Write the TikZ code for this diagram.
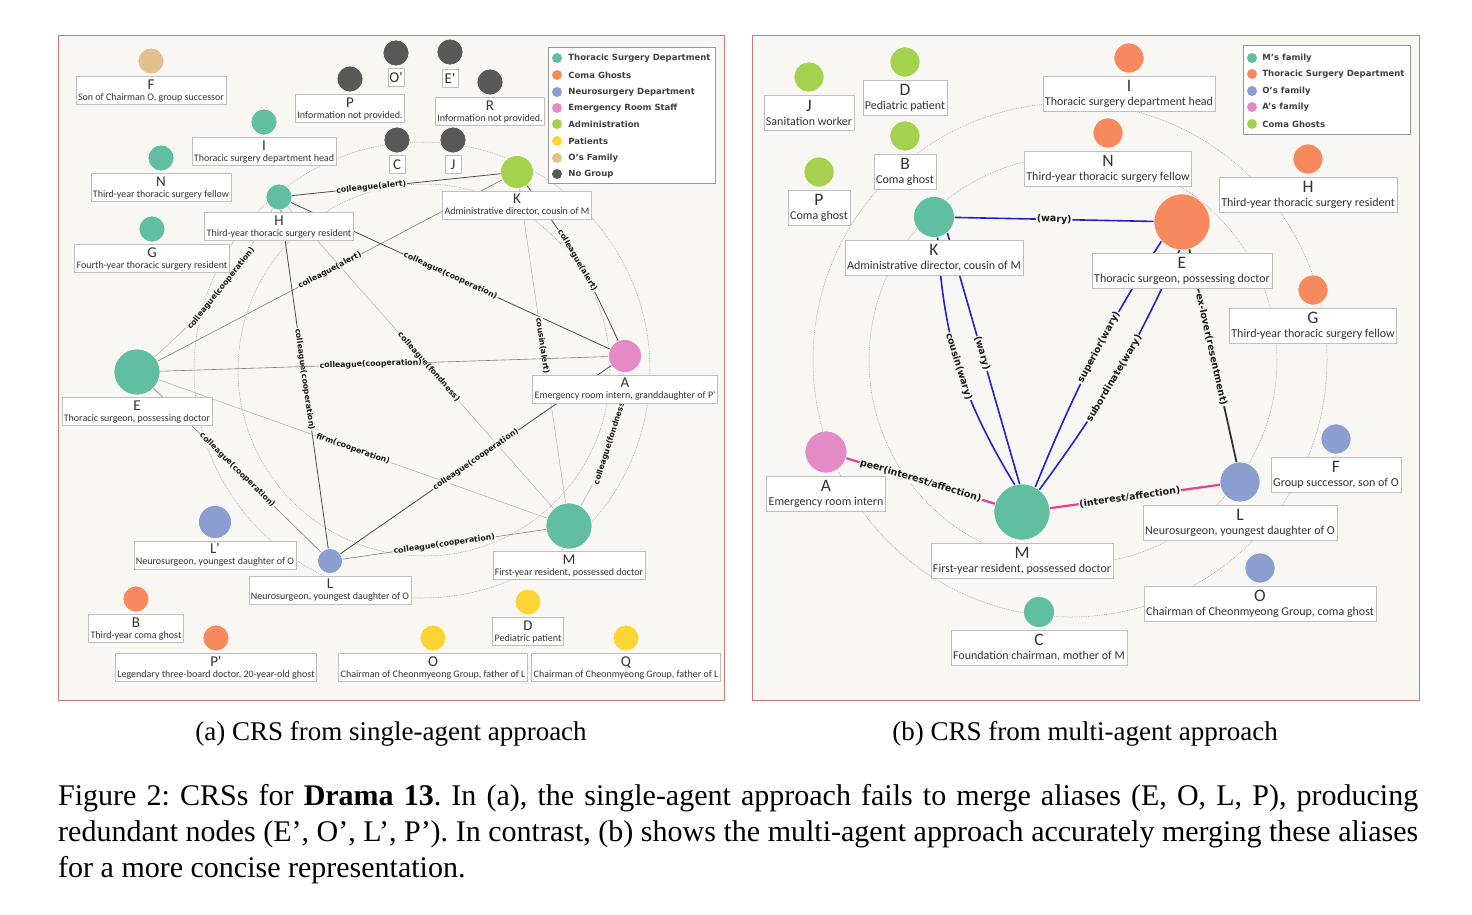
\documentclass[tikz,border=0pt]{standalone}
\usepackage{fontspec}
\setmainfont{Liberation Serif}
\newfontfamily\labfont{Carlito}
\newfontfamily\relfont{DejaVu Sans}
\usepackage{tikz}
\usetikzlibrary{positioning}

\definecolor{cThor}{RGB}{98,190,160}
\definecolor{cComa}{RGB}{247,138,92}
\definecolor{cNeuro}{RGB}{139,158,208}
\definecolor{cER}{RGB}{228,138,198}
\definecolor{cAdmin}{RGB}{164,210,78}
\definecolor{cPat}{RGB}{252,212,52}
\definecolor{cOfam}{RGB}{228,192,140}
\definecolor{cNone}{RGB}{88,88,88}
\definecolor{panelbg}{RGB}{249,247,244}
\definecolor{panelrim}{RGB}{205,120,120}
\definecolor{wblue}{RGB}{34,34,200}
\definecolor{apink}{RGB}{232,64,140}

\newcommand\lnm[1]{{\fontsize{15}{15}\selectfont #1}}
\newcommand\rnm[1]{{\fontsize{17.5}{17.5}\selectfont #1}}

\tikzset{
  panel/.style={draw=panelrim, fill=panelbg, line width=0.8pt},
  orbit/.style={draw=black!40, line width=0.5pt, dash pattern=on 0.8pt off 1pt},
  person/.style={circle, inner sep=0pt, draw=white, line width=0.6pt},
  lbox/.style={draw=black!25, fill=white, line width=0.5pt, align=center,
    inner xsep=2pt, inner ysep=1pt, minimum height=28pt, text=black!80,
    font=\labfont\fontsize{10}{11}\selectfont},
  lsmall/.style={lbox, minimum height=18pt, minimum width=16pt, inner xsep=1pt},
  rbox/.style={lbox, minimum height=35pt, font=\labfont\fontsize{12}{14}\selectfont},
  edark/.style={draw=black!70, line width=0.8pt},
  emid/.style={draw=black!50, line width=0.6pt},
  elight/.style={draw=black!30, line width=0.5pt},
  lrel/.style={sloped, fill=panelbg, inner sep=0.8pt, text=black!90,
    font=\relfont\bfseries\fontsize{7.8}{9}\selectfont},
  rrel/.style={lrel, font=\relfont\bfseries\fontsize{9.5}{11}\selectfont},
  wary/.style={draw=wblue, line width=1.6pt},
  affect/.style={draw=apink, line width=2.2pt},
  exlove/.style={draw=black!80, line width=1.8pt},
  legframe/.style={draw=black!40, fill=white, line width=0.6pt},
  legdot/.style={circle, inner sep=0pt, minimum size=10pt},
  legtxt/.style={inner sep=0pt, text=black!75, font=\relfont\bfseries\fontsize{8.5}{10}\selectfont},
  subcap/.style={anchor=base, font=\fontsize{27}{32}\selectfont}
}

\begin{document}
\begin{tikzpicture}[x=1pt,y=-1pt]
\useasboundingbox (0,0) rectangle (1472,914);
\fill[white] (0,0) rectangle (1472,914);

% (a) single-agent
\draw[panel] (58,35) rectangle (724,700);
\draw[orbit] (422,370) circle (228pt);
\draw[orbit] (424,370) circle (186pt);

\draw[legframe] (548,47) rectangle (715,183);
\node[legdot, fill=cThor] (lgA1) at (557,58) {};
\node[legtxt, right=6pt of lgA1] (lgA1t) {Thoracic Surgery Department};
\node[legdot, fill=cComa] (lgA2) at (557,75) {};
\node[legtxt, right=6pt of lgA2] (lgA2t) {Coma Ghosts};
\node[legdot, fill=cNeuro] (lgA3) at (557,92) {};
\node[legtxt, right=6pt of lgA3] (lgA3t) {Neurosurgery Department};
\node[legdot, fill=cER] (lgA4) at (557,108) {};
\node[legtxt, right=6pt of lgA4] (lgA4t) {Emergency Room Staff};
\node[legdot, fill=cAdmin] (lgA5) at (557,124) {};
\node[legtxt, right=6pt of lgA5] (lgA5t) {Administration};
\node[legdot, fill=cPat] (lgA6) at (557,141) {};
\node[legtxt, right=6pt of lgA6] (lgA6t) {Patients};
\node[legdot, fill=cOfam] (lgA7) at (557,158) {};
\node[legtxt, right=6pt of lgA7] (lgA7t) {O’s Family};
\node[legdot, fill=cNone] (lgA8) at (557,174) {};
\node[legtxt, right=6pt of lgA8] (lgA8t) {No Group};

\node[person, minimum size=26pt, fill=cOfam] (lF) at (151,61) {};
\node[person, minimum size=26pt, fill=cNone] (lP) at (350,79) {};
\node[person, minimum size=26pt, fill=cNone] (lOp) at (396,53) {};
\node[person, minimum size=26pt, fill=cNone] (lEp) at (450,52) {};
\node[person, minimum size=26pt, fill=cNone] (lR) at (490,82) {};
\node[person, minimum size=26pt, fill=cNone] (lC) at (397,140) {};
\node[person, minimum size=26pt, fill=cNone] (lJ) at (453,140) {};
\node[person, minimum size=33pt, fill=cAdmin] (lK) at (517,172) {};
\node[person, minimum size=26pt, fill=cThor] (lI) at (264,122) {};
\node[person, minimum size=26pt, fill=cThor] (lN) at (161,158) {};
\node[person, minimum size=26pt, fill=cThor] (lH) at (279,197) {};
\node[person, minimum size=26pt, fill=cThor] (lG) at (152,229) {};
\node[person, minimum size=46pt, fill=cThor] (lE) at (137,372) {};
\node[person, minimum size=33pt, fill=cER] (lA) at (625,356) {};
\node[person, minimum size=33pt, fill=cNeuro] (lLp) at (215,522) {};
\node[person, minimum size=25pt, fill=cNeuro] (lL) at (330,561) {};
\node[person, minimum size=26pt, fill=cComa] (lB) at (136,599) {};
\node[person, minimum size=26pt, fill=cComa] (lPp) at (216,638) {};
\node[person, minimum size=46pt, fill=cThor] (lM) at (569,526) {};
\node[person, minimum size=26pt, fill=cPat] (lD) at (528,602) {};
\node[person, minimum size=26pt, fill=cPat] (lO) at (433,638) {};
\node[person, minimum size=26pt, fill=cPat] (lQ) at (626,638) {};

\draw[edark] (lH) -- node[lrel, pos=0.38] {colleague(alert)} (lK);
\draw[elight] (lH) to[bend left=10] node[lrel, pos=0.5] {colleague(cooperation)} (lE);
\draw[emid] (lE) -- node[lrel] {colleague(alert)} (lK);
\draw[edark] (lH) -- node[lrel] {colleague(cooperation)} (lA);
\draw[edark] (lH) -- node[lrel] {colleague(cooperation)} (lL);
\draw[elight] (lH) -- node[lrel, pos=0.53] {colleague(fondness)} (lM);
\draw[edark] (lK) to[bend left=6] node[lrel] {colleague(alert)} (lA);
\draw[elight] (lK) -- node[lrel] {cousin(alert)} (lM);
\draw[emid] (lE) -- node[lrel, pos=0.47] {colleague(cooperation)} (lA);
\draw[elight] (lE) -- node[lrel] {firm(cooperation)} (lM);
\draw[emid] (lE) -- node[lrel] {colleague(cooperation)} (lL);
\draw[edark] (lL) -- node[lrel] {colleague(cooperation)} (lA);
\draw[elight] (lA) to[bend left=12] node[lrel] {colleague(fondness)} (lM);
\draw[emid] (lL) -- node[lrel] {colleague(cooperation)} (lM);

\node[lbox, below=2pt of lF] (lFt) {\lnm{F}\\Son of Chairman O, group successor};
\node[lbox, below=2pt of lP] (lPt) {\lnm{P}\\Information not provided.};
\node[lsmall, below=2pt of lOp] (lOpt) {\lnm{O'}};
\node[lsmall, below=4pt of lEp] (lEpt) {\lnm{E'}};
\node[lbox, below=2pt of lR] (lRt) {\lnm{R}\\Information not provided.};
\node[lsmall, below=2pt of lC] (lCt) {\lnm{C}};
\node[lsmall, below=2pt of lJ] (lJt) {\lnm{J}};
\node[lbox, below=2pt of lK] (lKt) {\lnm{K}\\Administrative director, cousin of M};
\node[lbox, below=2pt of lI] (lIt) {\lnm{I}\\Thoracic surgery department head};
\node[lbox, below=2pt of lN] (lNt) {\lnm{N}\\Third-year thoracic surgery fellow};
\node[lbox, below=2pt of lH] (lHt) {\lnm{H}\\Third-year thoracic surgery resident};
\node[lbox, below=2pt of lG] (lGt) {\lnm{G}\\Fourth-year thoracic surgery resident};
\node[lbox, below=2pt of lE] (lEt) {\lnm{E}\\Thoracic surgeon, possessing doctor};
\node[lbox, below=2pt of lA] (lAt) {\lnm{A}\\Emergency room intern, granddaughter of P'};
\node[lbox, below=2pt of lLp] (lLpt) {\lnm{L'}\\Neurosurgeon, youngest daughter of O};
\node[lbox, below=2pt of lL] (lLt) {\lnm{L}\\Neurosurgeon, youngest daughter of O};
\node[lbox, below=2pt of lB] (lBt) {\lnm{B}\\Third-year coma ghost};
\node[lbox, below=2pt of lPp] (lPpt) {\lnm{P'}\\Legendary three-board doctor, 20-year-old ghost};
\node[lbox, below=2pt of lM] (lMt) {\lnm{M}\\First-year resident, possessed doctor};
\node[lbox, below=2pt of lD] (lDt) {\lnm{D}\\Pediatric patient};
\node[lbox, below=2pt of lO] (lOt) {\lnm{O}\\Chairman of Cheonmyeong Group, father of L};
\node[lbox, below=2pt of lQ] (lQt) {\lnm{Q}\\Chairman of Cheonmyeong Group, father of L};

% (b) multi-agent
\draw[panel] (752,35) rectangle (1419,700);
\draw[orbit] (1070,360) circle (257pt);
\draw[orbit] (1073,360) circle (204pt);

\draw[legframe] (1243,45) rectangle (1410,134);
\node[legdot, fill=cThor] (lgB1) at (1252,58) {};
\node[legtxt, right=5pt of lgB1] (lgB1t) {M’s family};
\node[legdot, fill=cComa] (lgB2) at (1252,74) {};
\node[legtxt, right=5pt of lgB2] (lgB2t) {Thoracic Surgery Department};
\node[legdot, fill=cNeuro] (lgB3) at (1252,91) {};
\node[legtxt, right=5pt of lgB3] (lgB3t) {O’s family};
\node[legdot, fill=cER] (lgB4) at (1252,107) {};
\node[legtxt, right=5pt of lgB4] (lgB4t) {A’s family};
\node[legdot, fill=cAdmin] (lgB5) at (1252,124) {};
\node[legtxt, right=5pt of lgB5] (lgB5t) {Coma Ghosts};

\node[person, minimum size=30pt, fill=cAdmin] (rJ) at (809,77) {};
\node[person, minimum size=30pt, fill=cAdmin] (rD) at (905,62) {};
\node[person, minimum size=30pt, fill=cAdmin] (rB) at (905,136) {};
\node[person, minimum size=30pt, fill=cAdmin] (rP) at (819,172) {};
\node[person, minimum size=41pt, fill=cThor] (rK) at (934,217) {};
\node[person, minimum size=30pt, fill=cComa] (rI) at (1129,58) {};
\node[person, minimum size=30pt, fill=cComa] (rN) at (1108,133) {};
\node[person, minimum size=30pt, fill=cComa] (rH) at (1308,159) {};
\node[person, minimum size=56pt, fill=cComa] (rE) at (1182,222) {};
\node[person, minimum size=30pt, fill=cComa] (rG) at (1313,290) {};
\node[person, minimum size=30pt, fill=cNeuro] (rF) at (1336,439) {};
\node[person, minimum size=40pt, fill=cNeuro] (rL) at (1240,482) {};
\node[person, minimum size=42pt, fill=cER] (rA) at (826,452) {};
\node[person, minimum size=56pt, fill=cThor] (rM) at (1022,512) {};
\node[person, minimum size=30pt, fill=cNeuro] (rO) at (1260,568) {};
\node[person, minimum size=31pt, fill=cThor] (rC) at (1039,612) {};

\draw[wary] (rK) -- node[rrel] {(wary)} (rE);
\draw[wary] (rK.-80) to[bend right=14] node[rrel] {cousin(wary)} (rM.105);
\draw[wary] (rK.-50) -- node[rrel, pos=0.48] {(wary)} (rM.95);
\draw[wary] (rE.-137) to[bend right=5] node[rrel, pos=0.44] {superior(wary)} (rM.62);
\draw[wary] (rE.-95) to[bend left=6] node[rrel, pos=0.52] {subordinate(wary)} (rM.52);
\draw[exlove] (rE.-75) -- node[rrel, pos=0.47] {ex-lover(resentment)} (rL.100);
\draw[affect] (rA) -- node[rrel] {peer(interest/affection)} (rM);
\draw[affect] (rM) -- node[rrel, pos=0.47] {(interest/affection)} (rL);

\node[rbox, below=2.5pt of rJ] (rJt) {\rnm{J}\\Sanitation worker};
\node[rbox, below=2.5pt of rD] (rDt) {\rnm{D}\\Pediatric patient};
\node[rbox, below=2.5pt of rB] (rBt) {\rnm{B}\\Coma ghost};
\node[rbox, below=2.5pt of rP] (rPt) {\rnm{P}\\Coma ghost};
\node[rbox, below=2.5pt of rK] (rKt) {\rnm{K}\\Administrative director, cousin of M};
\node[rbox, below=2.5pt of rI] (rIt) {\rnm{I}\\Thoracic surgery department head};
\node[rbox, below=2.5pt of rN] (rNt) {\rnm{N}\\Third-year thoracic surgery fellow};
\node[rbox, below=2.5pt of rH] (rHt) {\rnm{H}\\Third-year thoracic surgery resident};
\node[rbox, below=2.5pt of rE] (rEt) {\rnm{E}\\Thoracic surgeon, possessing doctor};
\node[rbox, below=2.5pt of rG] (rGt) {\rnm{G}\\Third-year thoracic surgery fellow};
\node[rbox, below=2.5pt of rF] (rFt) {\rnm{F}\\Group successor, son of O};
\node[rbox, below=2.5pt of rL] (rLt) {\rnm{L}\\Neurosurgeon, youngest daughter of O};
\node[rbox, below=2.5pt of rA] (rAt) {\rnm{A}\\Emergency room intern};
\node[rbox, below=2.5pt of rM] (rMt) {\rnm{M}\\First-year resident, possessed doctor};
\node[rbox, below=2.5pt of rO] (rOt) {\rnm{O}\\Chairman of Cheonmyeong Group, coma ghost};
\node[rbox, below=2.5pt of rC] (rCt) {\rnm{C}\\Foundation chairman, mother of M};

% captions
\node[subcap] (capA) at (391,740) {(a) CRS from single-agent approach};
\node[subcap] (capB) at (1085,740) {(b) CRS from multi-agent approach};
\node[anchor=north west, inner sep=0pt, text width=1360pt, align=justify,
  font=\fontsize{30}{36}\selectfont] (figcap) at (58,784)
  {\frenchspacing Figure 2: CRSs for \textbf{Drama 13}. In (a), the single-agent approach fails to merge aliases (E, O, L, P), producing\linebreak
   redundant nodes (E’, O’, L’, P’). In contrast, (b) shows the multi-agent approach accurately merging these aliases\linebreak
   for a more concise representation.};
\end{tikzpicture}
\end{document}
